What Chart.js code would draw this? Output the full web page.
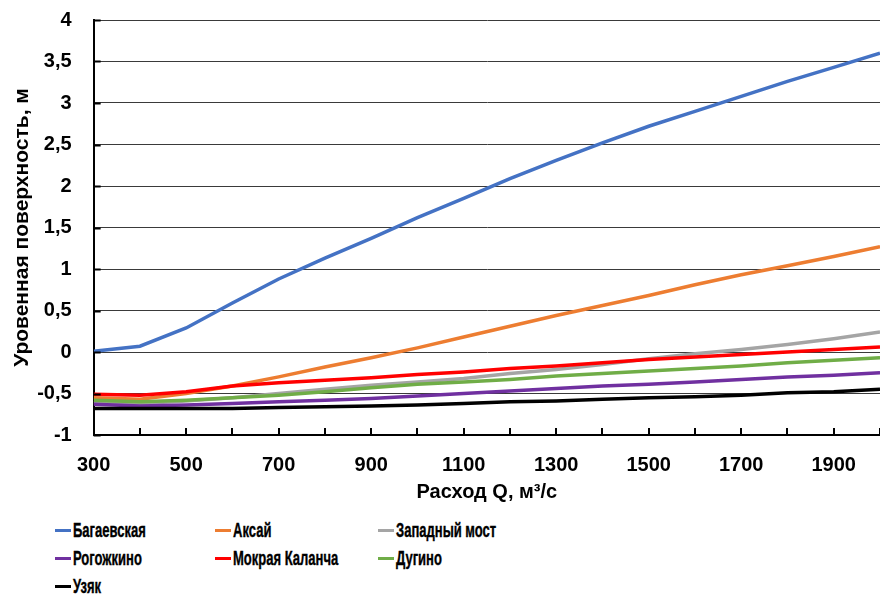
<!DOCTYPE html>
<html>
<head>
<meta charset="utf-8">
<script src="https://cdn.jsdelivr.net/npm/chart.js@4"></script>
<style>
  body { margin: 0; background: #fff; width: 880px; height: 597px; overflow: hidden; position: relative; }
  #wrap { position: absolute; left: 0; top: 0; width: 880px; height: 504px; }
  #legenda {
    position: absolute; left: 55px; top: 516px;
    display: grid; grid-template-columns: 160px 163px auto; grid-auto-rows: 28px;
    font-family: "Liberation Sans", sans-serif;
    font-weight: bold; font-size: 21px; color: #000;
  }
  #legenda div { display: flex; align-items: center; white-space: nowrap; }
  #legenda span.garis { display: inline-block; width: 16px; height: 3px; margin-right: 2px; flex: none; }
  #legenda span.teks { display: inline-block; transform: scaleX(0.62); transform-origin: left center; -webkit-text-stroke: 0.4px #000; }
</style>
</head>
<body>
<div id="wrap"><canvas id="grafik"></canvas></div>
<div id="legenda"></div>
<script>
  var rashod = [300, 400, 500, 600, 700, 800, 900, 1000, 1100, 1200, 1300, 1400, 1500, 1600, 1700, 1800, 1900, 2000];

  var bagaevskaya = [0.01, 0.07, 0.29, 0.59, 0.88, 1.13, 1.37, 1.62, 1.85, 2.09, 2.31, 2.52, 2.72, 2.90, 3.08, 3.26, 3.43, 3.60];
  var aksai       = [-0.55, -0.57, -0.50, -0.41, -0.30, -0.18, -0.07, 0.05, 0.18, 0.31, 0.44, 0.56, 0.68, 0.81, 0.93, 1.04, 1.15, 1.27];
  var zapadnyMost = [-0.61, -0.62, -0.59, -0.55, -0.50, -0.45, -0.40, -0.36, -0.32, -0.26, -0.21, -0.15, -0.08, -0.02, 0.03, 0.09, 0.16, 0.24];
  var rogozhkino  = [-0.63, -0.65, -0.64, -0.62, -0.60, -0.58, -0.56, -0.53, -0.50, -0.47, -0.44, -0.41, -0.39, -0.36, -0.33, -0.30, -0.28, -0.25];
  var mokrayaKal  = [-0.51, -0.52, -0.48, -0.41, -0.37, -0.34, -0.31, -0.27, -0.24, -0.20, -0.17, -0.13, -0.09, -0.06, -0.03, 0.00, 0.03, 0.06];
  var dugino      = [-0.58, -0.60, -0.58, -0.55, -0.52, -0.48, -0.43, -0.39, -0.36, -0.33, -0.29, -0.26, -0.23, -0.20, -0.17, -0.13, -0.10, -0.07];
  var uzyak       = [-0.68, -0.68, -0.68, -0.68, -0.67, -0.66, -0.65, -0.64, -0.62, -0.60, -0.59, -0.57, -0.55, -0.54, -0.52, -0.49, -0.48, -0.45];

  var namaSeri = ["Багаевская", "Аксай", "Западный мост", "Рогожкино", "Мокрая Каланча", "Дугино", "Узяк"];
  var warna = ["#4472C4", "#ED7D31", "#A5A5A5", "#7030A0", "#FF0000", "#70AD47", "#000000"];
  var nilaiSeri = [bagaevskaya, aksai, zapadnyMost, rogozhkino, mokrayaKal, dugino, uzyak];

  var huruf = "'Liberation Sans', sans-serif";

  var datasets = nilaiSeri.map(function(arr, i) {
    return {
      label: namaSeri[i],
      data: arr.map(function(v, j) { return { x: rashod[j], y: v }; }),
      borderColor: warna[i],
      backgroundColor: warna[i],
      borderWidth: 3.5,
      pointRadius: 0,
      tension: 0,
      order: namaSeri.length - i
    };
  });

  // tanda tick ke arah dalam, seperti di Excel
  var tickDalam = {
    id: "tickDalam",
    afterDraw: function(chart) {
      var c = chart.ctx, a = chart.chartArea;
      var sx = chart.scales.x, sy = chart.scales.y;
      c.save();
      c.strokeStyle = "#000";
      c.lineWidth = 2;
      c.beginPath();
      sx.ticks.forEach(function(t) {
        var px = Math.round(sx.getPixelForValue(t.value));
        c.moveTo(px, a.bottom);
        c.lineTo(px, a.bottom - 7);
      });
      sy.ticks.forEach(function(t) {
        var py = Math.round(sy.getPixelForValue(t.value)) + 0.5;
        c.moveTo(a.left, py);
        c.lineTo(a.left + 7, py);
      });
      c.stroke();
      c.restore();
    }
  };

  var ctx = document.getElementById("grafik").getContext("2d");
  new Chart(ctx, {
    type: "line",
    data: { datasets: datasets },
    plugins: [tickDalam],
    options: {
      responsive: true,
      maintainAspectRatio: false,
      animation: false,
      layout: { padding: { left: 10, right: 0, top: 20, bottom: 0 } },
      plugins: {
        legend: { display: false },
        tooltip: { enabled: false }
      },
      scales: {
        x: {
          type: "linear",
          min: 300,
          max: 2000,
          border: { color: "#000", width: 2 },
          grid: { drawOnChartArea: false, drawTicks: true, tickLength: 18, tickColor: "rgba(0,0,0,0)" },
          ticks: {
            stepSize: 100,
            autoSkip: false,
            maxRotation: 0,
            color: "#000",
            padding: 0,
            font: { family: huruf, size: 20, weight: "bold" },
            callback: function(v) { return (v - 300) % 200 === 0 ? String(v) : ""; }
          },
          title: {
            display: true,
            text: "Расход Q, м³/с",
            color: "#000",
            padding: { top: 3, bottom: 0 },
            font: { family: huruf, size: 20, weight: "bold" }
          }
        },
        y: {
          min: -1,
          max: 4,
          border: { color: "#000", width: 2 },
          grid: { color: "#3a3a3a", lineWidth: 1, drawTicks: true, tickLength: 22, tickColor: "rgba(0,0,0,0)" },
          ticks: {
            stepSize: 0.5,
            color: "#000",
            padding: 0,
            font: { family: huruf, size: 20, weight: "bold" },
            callback: function(v) { return String(v).replace(".", ","); }
          },
          title: {
            display: true,
            text: "Уровенная поверхность, м",
            color: "#000",
            padding: { top: 0, bottom: 2 },
            font: { family: huruf, size: 21, weight: "bold" }
          }
        }
      }
    }
  });

  var legenda = document.getElementById("legenda");
  namaSeri.forEach(function(n, i) {
    var d = document.createElement("div");
    d.innerHTML = '<span class="garis" style="background:' + warna[i] + '"></span><span class="teks">' + n + '</span>';
    legenda.appendChild(d);
  });
</script>
</body>
</html>
